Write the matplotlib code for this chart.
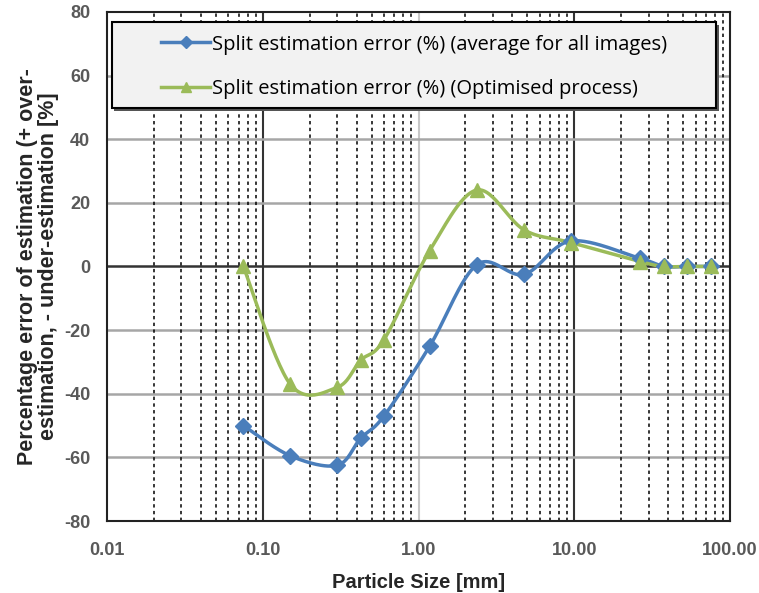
import numpy as np
import matplotlib
matplotlib.use("Agg")
import matplotlib.pyplot as plt
from matplotlib.ticker import FixedLocator, NullFormatter
from matplotlib.patches import Rectangle

plt.rcParams["axes.unicode_minus"] = False

# sieve sizes (mm)
sizes = [0.075, 0.15, 0.3, 0.425, 0.6, 1.18, 2.36, 4.75, 9.5, 26.5, 37.5, 53, 75]
err_avg = [-50, -59.5, -62.5, -54, -47, -25, 0.5, -2.5, 8, 2.5, 0, 0, 0]
err_opt = [0, -37, -38, -29.5, -23, 5, 24, 11.5, 7.5, 1.5, 0, 0, 0]

label_avg = "Split estimation error (%) (average for all images)"
label_opt = "Split estimation error (%) (Optimised process)"

xticks = [0.01, 0.1, 1, 10, 100]
xticklabels = ["0.01", "0.10", "1.00", "10.00", "100.00"]
yticks = [-80, -60, -40, -20, 0, 20, 40, 60, 80]


def smooth(x, y, n=30):
    # Excel style smoothed line (Catmull-Rom in screen-like coordinates)
    px = np.log10(np.array(x, float)) * 156.0
    py = np.array(y, float) * 3.175
    P = np.column_stack([px, py])
    P = np.vstack([P[0], P, P[-1]])
    out = []
    for i in range(1, len(P) - 2):
        p0, p1, p2, p3 = P[i - 1], P[i], P[i + 1], P[i + 2]
        t = np.linspace(0, 1, n)[:, None]
        c = 0.5 * ((2 * p1) + (-p0 + p2) * t + (2 * p0 - 5 * p1 + 4 * p2 - p3) * t ** 2
                   + (-p0 + 3 * p1 - 3 * p2 + p3) * t ** 3)
        out.append(c)
    out = np.vstack(out)
    return 10 ** (out[:, 0] / 156.0), out[:, 1] / 3.175


fig = plt.figure(figsize=(7.59, 5.93), dpi=100)
ax = fig.add_axes([0.141, 0.1214, 0.821, 0.8586])
ax.set_xscale("log")
ax.set_xlim(0.01, 100)
ax.set_ylim(-80, 80)

# grid
minor = [m * 10.0 ** e for e in range(-2, 2) for m in range(2, 10)]
ax.xaxis.set_minor_locator(FixedLocator(minor))
ax.xaxis.set_minor_formatter(NullFormatter())
ax.grid(True, which="minor", axis="x", color="black", linestyle=(0, (2.2, 2.2)), linewidth=1.1)
for v in [0.1, 10]:
    ax.axvline(v, color="#333333", linewidth=1.5, zorder=1)
ax.axvline(1, color="#c8c8c8", linewidth=1.5, zorder=1)
for v in [-60, -40, -20, 20, 40, 60]:
    ax.axhline(v, color="#a6a6a6", linewidth=1.8, zorder=1)
ax.axhline(0, color="#333333", linewidth=1.8, zorder=1)

blue = "#4a7ebb"
green = "#9bbb59"
sx, sy = smooth(sizes, err_avg)
ax.plot(sx, sy, color=blue, linewidth=2.5, zorder=3)
ax.plot(sizes, err_avg, linestyle="none", marker="D", markersize=8, color=blue, zorder=4)
gx, gy = smooth(sizes, err_opt)
ax.plot(gx, gy, color=green, linewidth=2.5, zorder=3)
ax.plot(sizes, err_opt, linestyle="none", marker="^", markersize=10, color=green, zorder=4)

# legend box (frame drawn separately, content centred inside)
ax.add_patch(Rectangle((0.012, 0.805), 0.97, 0.169, transform=ax.transAxes,
                       facecolor="#555555", edgecolor="none", zorder=9, clip_on=False))
ax.add_patch(Rectangle((0.008, 0.811), 0.97, 0.169, transform=ax.transAxes,
                       facecolor="#f2f2f2", edgecolor="black", linewidth=1.5, zorder=9,
                       clip_on=False))
h1, = ax.plot([], [], color=blue, linewidth=2.5, marker="D", markersize=6)
h2, = ax.plot([], [], color=green, linewidth=2.5, marker="^", markersize=7)
leg = ax.legend([h1, h2], [label_avg, label_opt], loc="center",
                bbox_to_anchor=(0.493, 0.8925), frameon=False,
                prop={"family": "Open Sans", "size": 14.5},
                handlelength=2.4, handletextpad=0.1, labelspacing=1.2, borderpad=0)
leg.set_zorder(11)

ax.set_xticks(xticks)
ax.set_xticklabels(xticklabels)
ax.set_yticks(yticks)
ax.tick_params(axis="both", which="both", length=0, labelsize=13, labelcolor="#595959")
ax.tick_params(axis="x", pad=15)
ax.tick_params(axis="y", pad=12)
for t in ax.get_xticklabels() + ax.get_yticklabels():
    t.set_fontweight("bold")
    t.set_family("Liberation Sans")

ax.set_xlabel("Particle Size [mm]", fontsize=14.5, fontweight="bold", family="Liberation Sans",
              color="#262626", labelpad=10)
ax.set_ylabel("Percentage error of estimation (+ over-\nestimation, - under-estimation [%]",
              fontsize=15.5, fontweight="bold", family="Liberation Sans", color="#262626",
              labelpad=4, linespacing=0.95)
for s in ax.spines.values():
    s.set_linewidth(1.5)
    s.set_color("#222222")

fig.savefig("out.png", dpi=100)
